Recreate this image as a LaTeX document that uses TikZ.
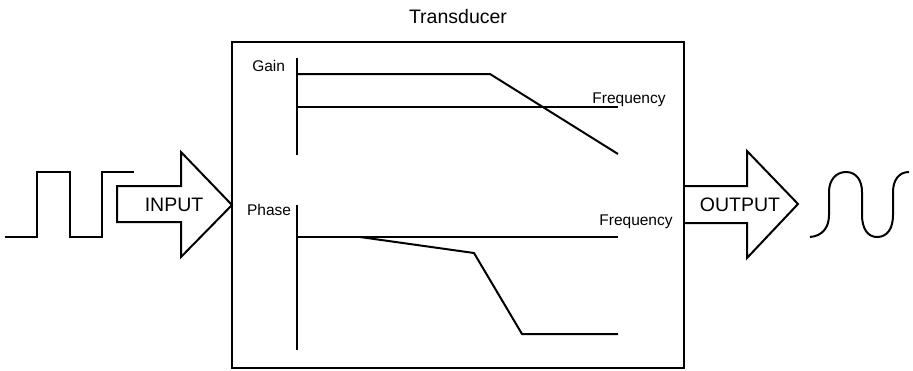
\documentclass[tikz,border=0pt]{standalone}
\usepackage{fontspec}
\setmainfont{Liberation Sans}
\begin{document}
\begin{tikzpicture}[x=1pt,y=-1pt, line width=2pt, line join=miter,
  lbl/.style={inner sep=0pt, font=\fontsize{15.5}{18}\selectfont},
  big/.style={inner sep=0pt, font=\fontsize{19.5}{22}\selectfont}]
\useasboundingbox (0,0) rectangle (913,370);
% transducer box
\node[draw, minimum width=452pt, minimum height=326pt, inner sep=0pt] (box) at (458,205) {};
\node[big] (title) at (458,17) {Transducer};
% gain plot
\draw (297,58) -- (297,155);
\draw (297,107) -- (618,107);
\draw (297,74) -- (490,74) -- (618,154);
\node[lbl, anchor=east] (gain) at (286,66) {Gain};
\node[lbl] (freq1) at (629,100) {Frequency};
% phase plot
\draw (297,205) -- (297,350);
\draw (297,237) -- (618,237);
\draw (360,237) -- (474,253) -- (522,334) -- (618,334);
\node[lbl, anchor=east] (phase) at (292,210) {Phase};
\node[lbl] (freq2) at (636,222) {Frequency};
% input square wave
\draw (5,237) -- (37,237) -- (37,172) -- (70,172) -- (70,237) -- (102,237) -- (102,172) -- (134,172);
% input arrow
\draw (117,186) -- (181,186) -- (181,152) -- (232,205) -- (181,257) -- (181,222) -- (117,222) -- cycle;
\node[big] (input) at (174,205) {INPUT};
% output arrow
\draw (684,186) -- (747,186) -- (747,151) -- (798,204) -- (747,258) -- (747,223) -- (684,223);
\node[big] (output) at (740,205) {OUTPUT};
% output wave
\draw (810,237) .. controls (822,236) and (829,228) .. (829,215) -- (829,192)
  .. controls (829,180) and (836,172) .. (846,172)
  .. controls (856,172) and (862,180) .. (862,192) -- (862,215)
  .. controls (862,229) and (868,237) .. (877,237)
  .. controls (887,237) and (893,229) .. (893,215) -- (893,192)
  .. controls (893,180) and (899,172) .. (909,172);
\end{tikzpicture}
\end{document}
